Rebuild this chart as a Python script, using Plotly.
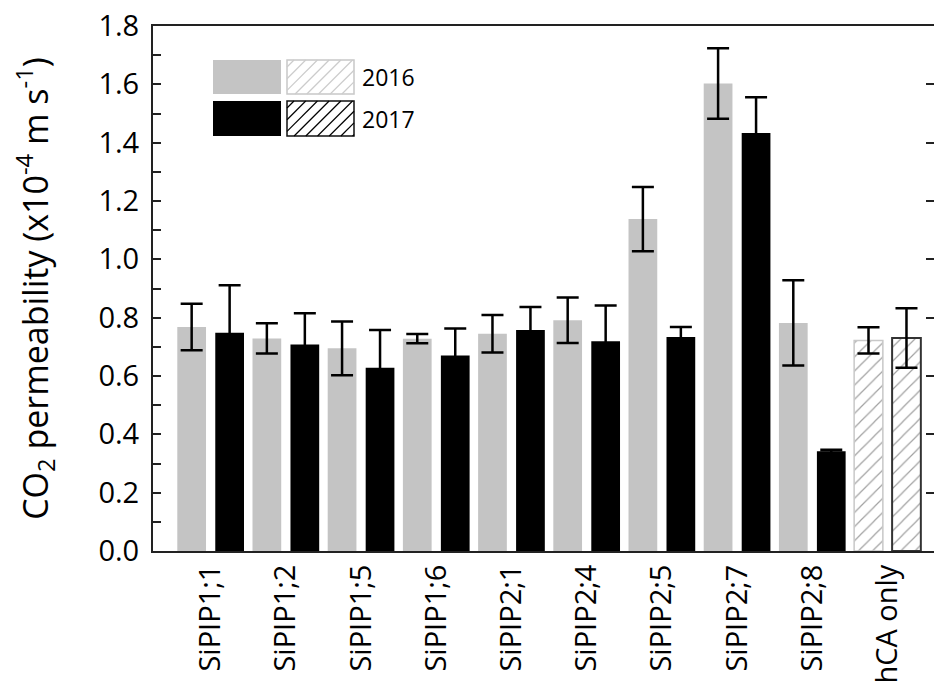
import plotly.graph_objects as go

categories = ["SiPIP1;1", "SiPIP1;2", "SiPIP1;5", "SiPIP1;6", "SiPIP2;1",
              "SiPIP2;4", "SiPIP2;5", "SiPIP2;7", "SiPIP2;8", "hCA only"]
y2016 = [0.768, 0.729, 0.695, 0.728, 0.745, 0.791, 1.138, 1.603, 0.782, 0.722]
err2016 = [0.080, 0.052, 0.092, 0.016, 0.064, 0.078, 0.110, 0.121, 0.146, 0.045]
y2017 = [0.748, 0.708, 0.628, 0.670, 0.758, 0.719, 0.734, 1.433, 0.342, 0.730]
err2017 = [0.163, 0.107, 0.130, 0.093, 0.079, 0.123, 0.034, 0.123, 0.005, 0.102]
years = ["2016", "2017"]
control = "hCA only"

GRAY = "#c4c4c4"
AX = "#222222"
FONT = "Open Sans"

W, H = 934, 693
L, R, T, B = 153, 0, 26, 142
PW, PH = W - L - R, H - T - B


def marker_style(color, hatch_color, edge_color, edge_w):
    hatched = [c == control for c in categories]
    return dict(
        color=["white" if h else color for h in hatched],
        pattern=dict(shape=["/" if h else "" for h in hatched],
                     fgcolor=hatch_color, fillmode="overlay",
                     size=10, solidity=0.12),
        line=dict(color=[edge_color if h else color for h in hatched],
                  width=[edge_w if h else 0 for h in hatched]),
    )


fig = go.Figure()
fig.add_trace(go.Bar(
    x=categories, y=y2016, name=years[0], offset=-0.444, width=0.382,
    marker=marker_style(GRAY, "#c8c8c8", "#c8c8c8", 1.5),
    error_y=dict(type="data", array=err2016, color="black", thickness=2.5, width=11),
    showlegend=False))
fig.add_trace(go.Bar(
    x=categories, y=y2017, name=years[1], offset=0.061, width=0.382,
    marker=marker_style("black", "black", "#333333", 2),
    error_y=dict(type="data", array=err2017, color="black", thickness=2.5, width=11),
    showlegend=False))
# empty trace so the right-hand (mirror) tick axis is drawn
fig.add_trace(go.Scatter(x=[], y=[], yaxis="y2", showlegend=False, hoverinfo="skip"))


# ---- legend drawn as shapes (pixel -> paper) ----
def px(x):
    return (x - L) / PW


def py(y):
    return (H - B - y) / PH


shapes = []


def rect(x0, y0, x1, y1, fill, line_color=None, line_w=0):
    shapes.append(dict(type="rect", xref="paper", yref="paper",
                       x0=px(x0), x1=px(x1), y0=py(y1), y1=py(y0),
                       fillcolor=fill,
                       line=dict(color=line_color or fill, width=line_w)))


def hatch(x0, y0, x1, y1, step, color, width):
    k = x0 + y0 + step * 0.6
    while k < x1 + y1:
        xa = max(x0, k - y1)
        xb = min(x1, k - y0)
        if xb > xa:
            shapes.append(dict(type="line", xref="paper", yref="paper",
                               x0=px(xa), y0=py(k - xa), x1=px(xb), y1=py(k - xb),
                               line=dict(color=color, width=width)))
        k += step


rows = [(years[0], GRAY, "#cccccc", "#c8c8c8", 60, 94),
        (years[1], "black", "black", "#111111", 101, 136)]
annotations = []
for name, col, hcol, ecol, ya, yb in rows:
    rect(213, ya, 281, yb, col)
    rect(287, ya, 354, yb, "white", ecol, 1.5)
    hatch(287, ya, 354, yb, 11.7, hcol, 1.2)
    annotations.append(dict(xref="paper", yref="paper", x=px(360), y=py((ya + yb) / 2),
                            xanchor="left", yanchor="middle", showarrow=False,
                            text=name, font=dict(family=FONT, size=23, color="black")))

fig.update_layout(
    width=W, height=H,
    margin=dict(l=L, r=R, t=T, b=B, autoexpand=False),
    paper_bgcolor="white", plot_bgcolor="white",
    barmode="overlay",
    font=dict(family=FONT, color="black"),
    shapes=shapes, annotations=annotations,
    xaxis=dict(
        range=[-0.767, 9.618], showline=True, linecolor=AX, linewidth=2,
        mirror=True, ticks="", tickangle=-90, showgrid=False,
        tickfont=dict(family=FONT, size=29, color="black"),
        ticklabelstandoff=0,
    ),
    yaxis=dict(
        range=[0, 1.8], dtick=0.2, tick0=0, tickformat=".1f",
        ticks="inside", ticklen=8, tickwidth=1.5, tickcolor=AX,
        showline=True, linecolor=AX, linewidth=2, mirror=True,
        showgrid=False, zeroline=False,
        minor=dict(dtick=0.1, ticks="inside", ticklen=8, tickwidth=1.5,
                   tickcolor=AX, showgrid=False),
        tickfont=dict(family=FONT, size=29, color="black"),
        ticklabelstandoff=6,
        title=dict(text="CO<sub>2</sub> permeability (x10<sup>-4</sup> m s<sup>-1</sup>)",
                   font=dict(family=FONT, size=34, color="black"), standoff=40),
    ),
    yaxis2=dict(
        overlaying="y", side="right", range=[0, 1.8], dtick=0.2, tick0=0,
        ticks="inside", ticklen=8, tickwidth=1.5, tickcolor=AX,
        showticklabels=False, showgrid=False, zeroline=False, showline=False,
    ),
)

fig.write_html("out.html")
